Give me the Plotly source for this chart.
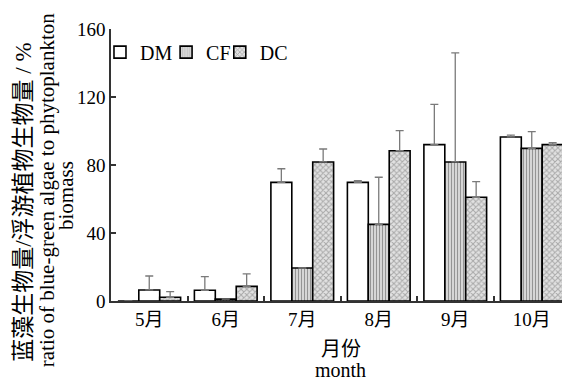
import plotly.graph_objects as go

months = ["5月", "6月", "7月", "8月", "9月", "10月"]
series = ["DM", "CF", "DC"]
dm = [0, 6.3, 69.8, 69.8, 92.0, 96.5]
dm_err = [0, 8.0, 8.0, 1.0, 23.7, 1.1]
cf = [6.5, 1.1, 19.4, 45.1, 81.8, 89.8]
cf_err = [8.2, 0, 0, 27.7, 64.2, 9.8]
dc = [2.2, 8.6, 81.8, 88.4, 61.0, 92.0]
dc_err = [3.3, 7.4, 7.6, 11.8, 9.2, 1.1]
y_ticks = [0, 40, 80, 120, 160]

SERIF = "Liberation Serif, Noto Sans CJK SC, serif"
ERRC = "#7a7a7a"

def err(vals):
    return dict(type="data", symmetric=False, array=vals, arrayminus=[0] * len(vals),
                color=ERRC, thickness=1.3, width=4)

def rot(lst):
    # put the first month last so the legend swatch takes the regular style
    return lst[1:] + lst[:1]

fig = go.Figure()
fig.add_trace(go.Bar(
    name="DM", x=months, y=dm, error_y=err(dm_err), legend="legend",
    marker=dict(color="white", line=dict(color="black", width=1.6)),
))
cf_colors = ["white"] + ["#d6d6d6"] * 5
cf_shapes = [""] + ["|"] * 5
fig.add_trace(go.Bar(
    name="CF", x=rot(months), y=rot(cf), error_y=err(rot(cf_err)), legend="legend2",
    marker=dict(color=rot(cf_colors),
                line=dict(color="black", width=1.6),
                pattern=dict(shape=rot(cf_shapes), fgcolor="#b0b0b0", size=3, solidity=0.3)),
))
fig.add_trace(go.Bar(
    name="DC", x=months, y=dc, error_y=err(dc_err), legend="legend3",
    marker=dict(color="#e2e2e2", line=dict(color="black", width=1.6),
                pattern=dict(shape="x", fgcolor="#707070", size=4, solidity=0.45)),
))

leg = dict(orientation="h", y=0.915, xanchor="left", yanchor="middle",
           bgcolor="rgba(0,0,0,0)", font=dict(size=20, family=SERIF), itemwidth=30)

# the page body has an 8px margin, so the figure is 8px smaller and offset
fig.update_layout(
    width=562, height=374,
    margin=dict(l=103, r=0, t=21, b=81),
    paper_bgcolor="white", plot_bgcolor="white",
    barmode="group", bargap=0.18, bargroupgap=0,
    font=dict(family=SERIF, size=19, color="black"),
    showlegend=True,
    legend=dict(leg, x=-0.024),
    legend2=dict(leg, x=0.12),
    legend3=dict(leg, x=0.237),
)
fig.update_xaxes(
    type="category", categoryorder="array", categoryarray=months,
    showline=True, linecolor="#333", linewidth=1.5,
    ticks="inside", tickson="boundaries", ticklen=5, tickcolor="#333", tickwidth=1.5,
    tickfont=dict(size=19, family=SERIF), showgrid=False, zeroline=False,
)
fig.update_yaxes(
    range=[0, 160], tickvals=y_ticks, showline=True, linecolor="#333", linewidth=1.5,
    ticks="inside", ticklen=5, tickcolor="#333", tickwidth=1.5,
    tickfont=dict(size=19, family=SERIF), showgrid=False, zeroline=False,
)

# y-axis title lines (rotated)
ylines = [
    ("蓝藻生物量/浮游植物生物量 / %", -0.19, 0.364, 23),
    ("ratio of blue-green algae to phytoplankton", -0.139, 0.408, 21),
    ("biomass", -0.098, 0.386, 21),
]
for txt, xp, yp, fs in ylines:
    fig.add_annotation(text=txt, xref="paper", yref="paper", x=xp, y=yp,
                       xanchor="center", yanchor="middle", textangle=-90,
                       showarrow=False, font=dict(size=fs, family=SERIF, color="black"))

# x-axis title lines
for txt, yp in [("月份", -0.176), ("month", -0.255)]:
    fig.add_annotation(text=txt, xref="paper", yref="paper", x=0.5, y=yp,
                       xanchor="center", yanchor="middle", showarrow=False,
                       font=dict(size=20, family=SERIF, color="black"))

fig.write_html("out.html")
